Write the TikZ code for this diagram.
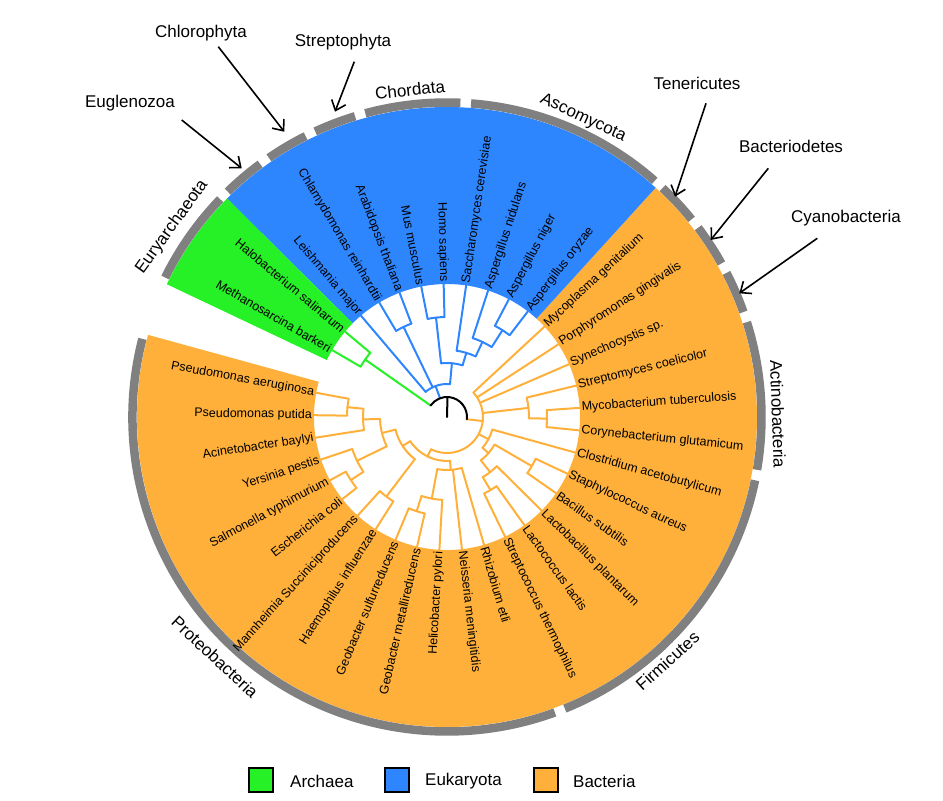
\documentclass[tikz,border=0pt]{standalone}
\usepackage{fontspec}
\setmainfont{Liberation Sans}
\usetikzlibrary{arrows.meta}
\definecolor{arch}{RGB}{38,240,38}
\definecolor{euk}{RGB}{46,134,255}
\definecolor{bac}{RGB}{255,176,58}
\definecolor{clgrey}{RGB}{128,128,128}
\newcommand\tarc[4]{\draw[br,#1] ({ang(#3)}:#2) arc[start angle={ang(#3)}, end angle={ang(#4)}, radius=#2];}
\newcommand\tedge[4]{\draw[br,#1] ({ang(#2)}:#3) -- ({ang(#2)}:#4);}
\newcommand\clarc[2]{\draw[clgrey,line width=8.5pt] ({ang(#1)}:314.5) arc[start angle={ang(#1)}, end angle={ang(#2)}, radius=314.5];}
\begin{document}
\begin{tikzpicture}[x=1pt,y=1pt,
  declare function={ang(\u)=169.5+9.7222*\u;},
  br/.style={line width=2pt,line cap=round},
  leaf/.style={font=\fontsize{12.5}{14}\selectfont,inner sep=1pt},
  clade/.style={font=\fontsize{17}{19}\selectfont,inner sep=0pt},
  pointer/.style={line width=1.6pt,-{Straight Barb[length=9pt,width=15pt]}},
  legbox/.style={draw=black,line width=2pt,minimum size=24pt,inner sep=0pt}]
\useasboundingbox (-447,-384) rectangle (496,417);
% sectors
\fill[bac] ({ang(-0.5)}:133) arc[start angle={ang(-0.5)}, end angle={ang(24.5)}, radius=133] -- ({ang(24.5)}:310) arc[start angle={ang(24.5)}, end angle={ang(-0.5)}, radius=310] -- cycle;
\fill[euk] ({ang(24.5)}:133) arc[start angle={ang(24.5)}, end angle={ang(33.5)}, radius=133] -- ({ang(33.5)}:310) arc[start angle={ang(33.5)}, end angle={ang(24.5)}, radius=310] -- cycle;
\fill[arch] ({ang(33.5)}:133) arc[start angle={ang(33.5)}, end angle={ang(35.5)}, radius=133] -- ({ang(35.5)}:310) arc[start angle={ang(35.5)}, end angle={ang(33.5)}, radius=310] -- cycle;
% clade arcs
\clarc{-0.4}{12.4}
\clarc{12.6}{18.4}
\clarc{18.6}{21.4}
\clarc{21.6}{22.4}
\clarc{22.6}{23.4}
\clarc{23.6}{24.4}
\clarc{24.6}{28.4}
\clarc{28.6}{30.4}
\clarc{30.6}{31.4}
\clarc{31.6}{32.4}
\clarc{32.6}{33.4}
\clarc{33.6}{35.4}
% Archaea
\tedge{arch}{34.5}{20}{100}
\tarc{arch}{100}{34}{35}
\tedge{arch}{34}{100}{133}\tedge{arch}{35}{100}{133}
% Eukaryota
\tedge{euk}{30.9375}{20}{33}
\tarc{euk}{33}{28.3125}{33}
\tedge{euk}{33}{33}{133}
\tedge{euk}{31.5}{33}{100}\tarc{euk}{100}{31}{32}
\tedge{euk}{31}{100}{133}\tedge{euk}{32}{100}{133}
\tedge{euk}{28.3125}{33}{54}\tarc{euk}{54}{27.125}{29.5}
\tedge{euk}{29.5}{54}{100}\tarc{euk}{100}{29}{30}
\tedge{euk}{29}{100}{133}\tedge{euk}{30}{100}{133}
\tedge{euk}{27.125}{54}{67}\tarc{euk}{67}{26.25}{28}
\tedge{euk}{28}{67}{133}
\tedge{euk}{26.25}{67}{83}\tarc{euk}{83}{25.5}{27}
\tedge{euk}{27}{83}{133}
\tedge{euk}{25.5}{83}{103}\tarc{euk}{103}{25}{26}
\tedge{euk}{25}{103}{133}\tedge{euk}{26}{103}{133}
% Bacteria
\tedge{bac}{18.927}{20}{36}
\tarc{bac}{36}{7.625}{24}
\tedge{bac}{22}{36}{133}\tedge{bac}{23}{36}{133}\tedge{bac}{24}{36}{133}
\tedge{bac}{20.25}{36}{82}\tarc{bac}{82}{19.5}{21}
\tedge{bac}{21}{82}{133}
\tedge{bac}{19.5}{82}{100}\tarc{bac}{100}{19}{20}
\tedge{bac}{19}{100}{133}\tedge{bac}{20}{100}{133}
\tedge{bac}{16.6875}{36}{47}\tarc{bac}{47}{15.375}{18}
\tedge{bac}{18}{47}{133}
\tedge{bac}{15.375}{47}{55}\tarc{bac}{55}{14.25}{16.5}
\tedge{bac}{16.5}{55}{98}\tarc{bac}{98}{16}{17}
\tedge{bac}{16}{98}{133}\tedge{bac}{17}{98}{133}
\tedge{bac}{14.25}{55}{70}\tarc{bac}{70}{13.5}{15}
\tedge{bac}{15}{70}{133}
\tedge{bac}{13.5}{70}{85}\tarc{bac}{85}{13}{14}
\tedge{bac}{13}{85}{133}\tedge{bac}{14}{85}{133}
\tedge{bac}{7.625}{36}{44}\tarc{bac}{44}{4.5}{10.75}
\tedge{bac}{10.75}{44}{53}\tarc{bac}{53}{9.25}{12}
\tedge{bac}{11}{53}{133}\tedge{bac}{12}{53}{133}
\tedge{bac}{9.25}{53}{83}\tarc{bac}{83}{8.5}{10}
\tedge{bac}{10}{83}{133}
\tedge{bac}{8.5}{83}{99}\tarc{bac}{99}{8}{9}
\tedge{bac}{8}{99}{133}\tedge{bac}{9}{99}{133}
\tedge{bac}{4.5}{44}{53}\tarc{bac}{53}{2.5}{6.5}
\tedge{bac}{6.5}{53}{100}\tarc{bac}{100}{6}{7}
\tedge{bac}{6}{100}{133}\tedge{bac}{7}{100}{133}
\tedge{bac}{2.5}{53}{67}\tarc{bac}{67}{1.25}{3.75}
\tedge{bac}{1.25}{67}{84}\tarc{bac}{84}{0.5}{2}
\tedge{bac}{2}{84}{133}
\tedge{bac}{0.5}{84}{100}\tarc{bac}{100}{0}{1}
\tedge{bac}{0}{100}{133}\tedge{bac}{1}{100}{133}
\tedge{bac}{3.75}{67}{100}\tarc{bac}{100}{3}{4.5}
\tedge{bac}{3}{100}{133}
\tedge{bac}{4.5}{100}{115}\tarc{bac}{115}{4}{5}
\tedge{bac}{4}{115}{133}\tedge{bac}{5}{115}{133}
% root
\tarc{black}{20}{18.927}{34.5}
\coordinate (root) at (0,0);
\draw[br,black] (root) -- ({ang(28.7)}:20);
% leaf labels
\foreach \i/\nm in {0/Pseudomonas aeruginosa,1/Pseudomonas putida,2/Acinetobacter baylyi,3/Yersinia pestis,4/Salmonella typhimurium,5/Escherichia coli,6/Mannheimia Succiniciproducens,7/Haemophilus influenzae,8/Geobacter sulfurreducens,9/Geobacter metallireducens,10/Helicobacter pylori,29/Homo sapiens,30/Mus musculus,31/Arabidopsis thaliana,32/Chlamydomonas reinhardtii,33/Leishmania major,34/Halobacterium salinarum,35/Methanosarcina barkeri}{
  \pgfmathsetmacro\a{169.5+9.7222*\i}
  \pgfmathsetmacro\ra{\a-180}
  \node[leaf,anchor=east,rotate=\ra] (L\i) at (\a:134) {\nm};
}
\foreach \i/\nm in {11/Neisseria meningitidis,12/Rhizobium etli,13/Streptococcus thermophilus,14/Lactococcus lactis,15/Lactobacillus plantarum,16/Bacillus subtilis,17/Staphylococcus aureus,18/Clostridium acetobutylicum,19/Corynebacterium glutamicum,20/Mycobacterium tuberculosis,21/Streptomyces coelicolor,22/Synechocystis sp.,23/Porphyromonas gingivalis,24/Mycoplasma genitalium,25/Aspergillus oryzae,26/Aspergillus niger,27/Aspergillus nidulans,28/Saccharomyces cerevisiae}{
  \pgfmathsetmacro\a{169.5+9.7222*\i}
  \node[leaf,anchor=west,rotate=\a] (L\i) at (\a:134) {\nm};
}
% clade labels
\node[clade,rotate=54] (eury) at (-275,190) {Euryarchaeota};
\node[clade,rotate=6.5] (chor) at (-37,327) {Chordata};
\node[clade,rotate=-25] (asco) at (136,299) {Ascomycota};
\node[clade,rotate=-88] (acti) at (331,3) {Actinobacteria};
\node[clade,rotate=42] (firm) at (220.5,-244) {Firmicutes};
\node[clade,rotate=-43] (prot) at (-232,-240) {Proteobacteria};
% pointed labels
\node[clade] (eugl) at (-317,314) {Euglenozoa};
\node[clade] (chlo) at (-246,384) {Chlorophyta};
\node[clade] (stre) at (-104,375) {Streptophyta};
\node[clade] (tene) at (250,334) {Tenericutes};
\node[clade] (bact) at (344,271) {Bacteriodetes};
\node[clade] (cyan) at (399,199) {Cyanobacteria};
\coordinate (eugl0) at (-265.3,297); \coordinate (eugl1) at (-205.3,248.7);
\coordinate (chlo0) at (-228.7,370.3); \coordinate (chlo1) at (-162.7,285.3);
\coordinate (stre0) at (-92.7,355.3); \coordinate (stre1) at (-112,305.3);
\coordinate (tene0) at (259,313.7); \coordinate (tene1) at (228,220.3);
\coordinate (bact0) at (321.3,248.7); \coordinate (bact1) at (263.7,177);
\coordinate (cyan0) at (370.3,178.7); \coordinate (cyan1) at (292.3,123.7);
\foreach \p in {eugl,chlo,stre,tene,bact,cyan}{\draw[pointer] (\p0) -- (\p1);}
% legend
\node[legbox,fill=arch] (lgA) at (-185.7,-363.3) {};
\node[clade,anchor=west] (ltA) at (-157,-364) {Archaea};
\node[legbox,fill=euk] (lgE) at (-50.3,-363.3) {};
\node[clade,anchor=west] (ltE) at (-22,-364) {Eukaryota};
\node[legbox,fill=bac] (lgB) at (99,-363.3) {};
\node[clade,anchor=west] (ltB) at (126,-364) {Bacteria};
\end{tikzpicture}
\end{document}
